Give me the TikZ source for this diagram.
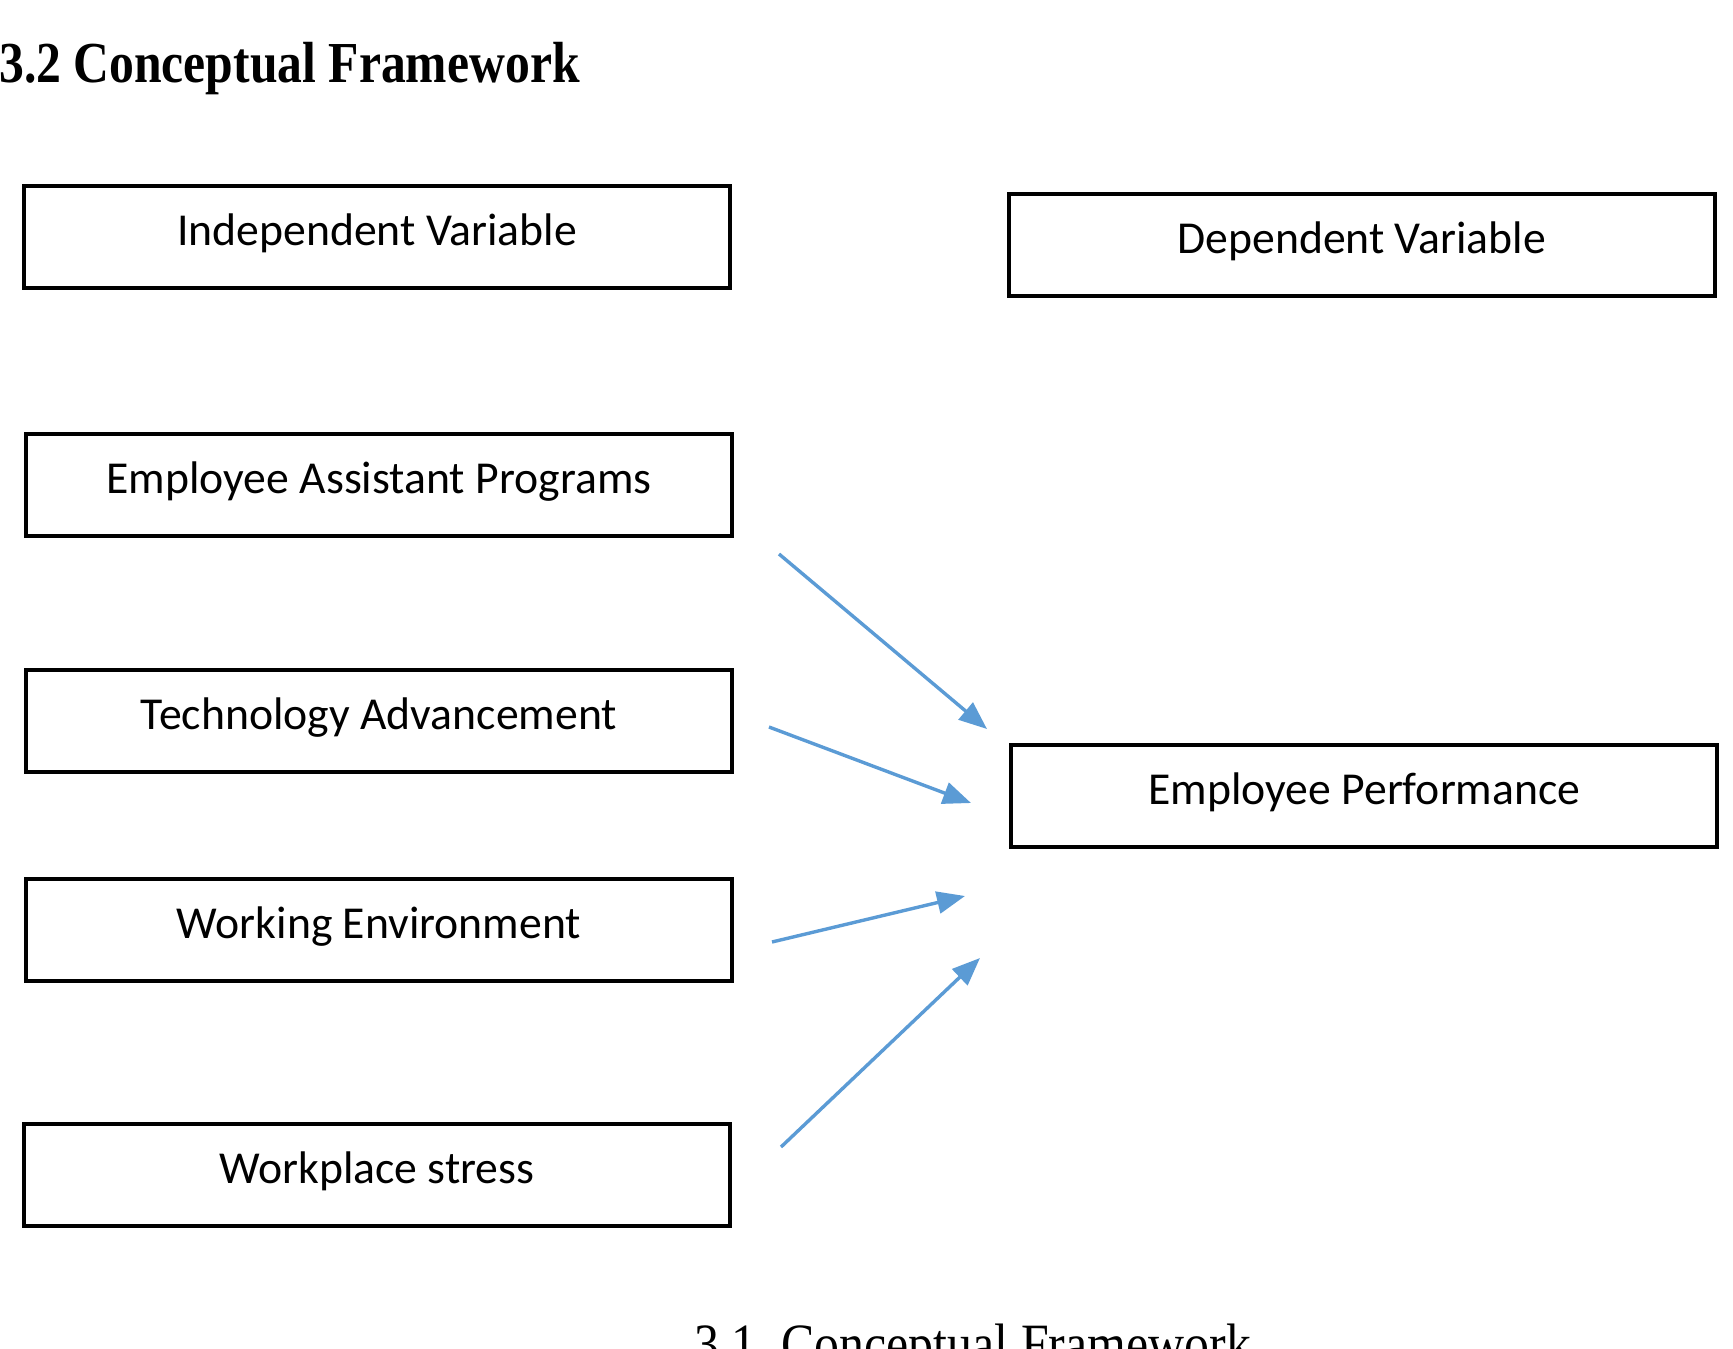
\documentclass[tikz,border=0pt]{standalone}
\usepackage{fontspec}
\setmainfont{Carlito}
\newfontfamily\tnrfont[FakeStretch=0.856]{Liberation Serif}
\newfontfamily\capfont[FakeStretch=0.875]{Liberation Serif}
\usetikzlibrary{arrows.meta}
\definecolor{arrowblue}{RGB}{91,155,213}
\begin{document}
\begin{tikzpicture}[x=1pt,y=-1pt,
  varbox/.style={draw=black, line width=4pt, minimum width=706pt, minimum height=102pt,
    inner sep=0pt, text height=30pt, text depth=13pt, font=\fontsize{45.7}{55}\selectfont},
  link/.style={draw=arrowblue, line width=3.4pt, -{Triangle[length=28pt,width=22pt]}},
  heading/.style={inner sep=0pt, anchor=base west}]
\useasboundingbox (0,0) rectangle (1733,1349);
\clip (0,0) rectangle (1733,1349);
\node[heading, font=\fontsize{58}{62}\selectfont\tnrfont\bfseries] (title) at (-1,82) {3.2 Conceptual Framework};
\node[varbox] (indep) at (377,236.5) {Independent Variable};
\node[varbox] (dep) at (1361.6,245.4) {Dependent Variable};
\node[varbox] (eap) at (379,484.5) {Employee Assistant Programs};
\node[varbox] (tech) at (379,721) {Technology Advancement};
\node[varbox] (env) at (379,930) {Working Environment};
\node[varbox] (stress) at (377,1175.4) {Workplace stress};
\node[varbox] (perf) at (1364.4,795.8) {Employee Performance};
\coordinate (a1s) at (779,554);  \coordinate (a1e) at (987,729);
\coordinate (a2s) at (769,727);  \coordinate (a2e) at (971,803);
\coordinate (a3s) at (772,942);  \coordinate (a3e) at (965,896);
\coordinate (a4s) at (781,1147); \coordinate (a4e) at (980,958);
\draw[link] (a1s) -- (a1e);
\draw[link] (a2s) -- (a2e);
\draw[link] (a3s) -- (a3e);
\draw[link] (a4s) -- (a4e);
\node[heading, font=\fontsize{57}{62}\selectfont\capfont] (caption) at (694,1363) {3.1\ \ Conceptual Framework};
\end{tikzpicture}
\end{document}
